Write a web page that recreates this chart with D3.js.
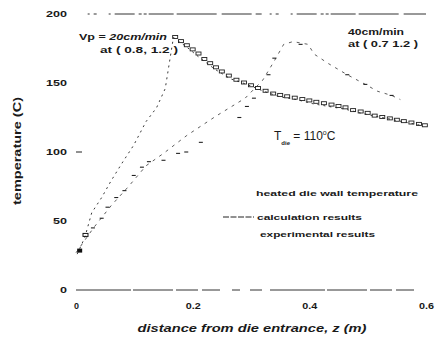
<!DOCTYPE html>
<html>
<head>
<meta charset="utf-8">
<script src="https://cdn.jsdelivr.net/npm/d3@7/dist/d3.min.js"></script>
<style>
body { margin: 0; background: #fff; }
text { font-family: "Liberation Sans", Arial, sans-serif; fill: #1a1a1a; }
</style>
</head>
<body>
<script>
var w = 437;
var h = 343;

// tick values and labels
var xTicks = [0, 0.2, 0.4, 0.6];
var xTickLabels = ["0", "0.2", "0.4", "0.6"];
var yTicks = [0, 50, 100, 150, 200];

// Vp = 20 cm/min, calculation (rising + falling)
var vp20CalcZ = [0.002, 0.015, 0.027, 0.044, 0.06, 0.079, 0.099, 0.12, 0.138, 0.153, 0.167, 0.19, 0.21, 0.238, 0.265, 0.293, 0.322, 0.349, 0.378, 0.406, 0.433, 0.462, 0.49, 0.524, 0.56, 0.595];
var vp20CalcT = [26, 38, 56, 67, 79, 92, 105, 122, 132, 146, 183, 176, 169, 160, 153, 149, 144, 140, 138, 135, 133, 131, 128, 125, 122, 119];

// Vp = 20 cm/min, experimental (open squares)
var vp20ExpZ = [0.170, 0.180, 0.190, 0.200, 0.210, 0.220, 0.230, 0.240, 0.250, 0.262, 0.275, 0.288, 0.300, 0.312, 0.325, 0.338, 0.350, 0.362, 0.375, 0.388, 0.400, 0.412, 0.425, 0.438, 0.450, 0.462, 0.475, 0.488, 0.500, 0.512, 0.525, 0.538, 0.550, 0.562, 0.575, 0.588, 0.598];
var vp20ExpT = [183, 180, 177, 174, 171, 167, 164, 161, 158, 155, 152, 150, 148, 146, 144, 142, 141, 140, 139, 138, 137, 136, 135, 134, 133, 132, 130, 129, 128, 126, 125, 124, 123, 122, 121, 120, 119];

// Vp = 40 cm/min, calculation
var vp40CalcZ = [0.0, 0.03, 0.06, 0.09, 0.12, 0.15, 0.19, 0.24, 0.29, 0.32, 0.34, 0.356, 0.372, 0.398, 0.408, 0.433, 0.465, 0.496, 0.517, 0.541, 0.556];
var vp40CalcT = [27, 45, 61, 75, 90, 99, 112, 126, 139, 152, 166, 178, 180, 178, 171, 164, 156, 149, 144, 141, 138];

// Vp = 40 cm/min, experimental (small marks)
var vp40ExpZ = [0.029, 0.044, 0.054, 0.069, 0.083, 0.099, 0.113, 0.125, 0.150, 0.175, 0.189, 0.214, 0.280, 0.293, 0.305, 0.330, 0.340, 0.385, 0.465, 0.496, 0.541];
var vp40ExpT = [45, 52, 60, 67, 72, 83, 89, 93, 94, 99, 100, 107, 125, 133, 139, 156, 168, 178, 156, 149, 141];

var xScale = d3.scaleLinear().domain([0, 0.6]).range([76, 426]);
var yScale = d3.scaleLinear().domain([0, 200]).range([290, 14]);

var svg = d3.select("body")
            .append("svg")
            .attr("width", w)
            .attr("height", h);

// stretched text helper (the scan is wide and flat)
function label(x, y, size, str, len) {
    return svg.append("text")
              .attr("x", x).attr("y", y)
              .attr("font-size", size).attr("font-weight", "bold")
              .attr("textLength", len)
              .attr("lengthAdjust", "spacingAndGlyphs")
              .text(str);
}

// faint frame lines at 0 and 200
svg.append("line")
   .attr("x1", xScale(0)).attr("x2", xScale(0.58))
   .attr("y1", yScale(0)).attr("y2", yScale(0))
   .attr("stroke", "#333").attr("stroke-width", 1)
   .attr("stroke-dasharray", "55,2,40,3,22,4,18,12,8,10,12,8");
svg.append("line")
   .attr("x1", xScale(0.02)).attr("x2", xScale(0.6))
   .attr("y1", yScale(200)).attr("y2", yScale(200))
   .attr("stroke", "#333").attr("stroke-width", 1)
   .attr("stroke-dasharray", "2,4,3,12,2,4,20,4,3,2,3,2,25,3,40,5,30,4,6,8");

//Define X,Y axis
var xAxis = d3.axisBottom(xScale)
              .tickValues(xTicks)
              .tickSize(0)
              .tickPadding(13)
              .tickFormat(function(d, i) { return xTickLabels[i]; });

var yAxis = d3.axisLeft(yScale)
              .tickValues(yTicks)
              .tickSize(0)
              .tickPadding(9);

var gx = svg.append("g")
    .attr("transform", "translate(0," + yScale(0) + ")")
    .call(xAxis);
gx.select(".domain").remove();
gx.selectAll("text")
  .attr("font-size", 9).attr("font-weight", "bold")
  .attr("textLength", function(d, i) { return xTickLabels[i].length * 5; })
  .attr("lengthAdjust", "spacingAndGlyphs");

var gy = svg.append("g")
    .attr("transform", "translate(" + xScale(0) + ",0)")
    .call(yAxis);
gy.select(".domain").remove();
gy.selectAll("text")
  .attr("font-size", 9).attr("font-weight", "bold")
  .attr("textLength", function(d) { return String(d).length * 7; })
  .attr("lengthAdjust", "spacingAndGlyphs");

// inward tick at 100
svg.append("line")
   .attr("x1", xScale(0)).attr("x2", xScale(0) + 6)
   .attr("y1", yScale(100)).attr("y2", yScale(100))
   .attr("stroke", "#222");

var line = d3.line()
    .x(function(d) { return xScale(d[0]); })
    .y(function(d) { return yScale(d[1]); });

// calculation curves
svg.append("path")
   .datum(d3.zip(vp20CalcZ, vp20CalcT))
   .attr("d", line)
   .attr("fill", "none")
   .attr("stroke", "#222")
   .attr("stroke-width", 0.9)
   .attr("stroke-dasharray", "2,4");

svg.append("path")
   .datum(d3.zip(vp40CalcZ, vp40CalcT))
   .attr("d", line)
   .attr("fill", "none")
   .attr("stroke", "#333")
   .attr("stroke-width", 0.8)
   .attr("stroke-dasharray", "3,5");

// experimental squares
svg.selectAll("rect.exp20")
   .data(d3.zip(vp20ExpZ, vp20ExpT))
   .enter()
   .append("rect")
   .attr("class", "exp20")
   .attr("x", function(d) { return xScale(d[0]) - 2.5; })
   .attr("y", function(d) { return yScale(d[1]) - 2; })
   .attr("width", 5)
   .attr("height", 3)
   .attr("fill", "none")
   .attr("stroke", "#222")
   .attr("stroke-width", 0.9);

// experimental marks, 40 cm/min
svg.selectAll("line.exp40")
   .data(d3.zip(vp40ExpZ, vp40ExpT))
   .enter()
   .append("line")
   .attr("class", "exp40")
   .attr("x1", function(d) { return xScale(d[0]) - 2; })
   .attr("x2", function(d) { return xScale(d[0]) + 2; })
   .attr("y1", function(d) { return yScale(d[1]); })
   .attr("y2", function(d) { return yScale(d[1]); })
   .attr("stroke", "#222")
   .attr("stroke-width", 1.1);

// start cluster near entrance
svg.append("rect")
   .attr("x", xScale(0.002)).attr("y", yScale(30))
   .attr("width", 5).attr("height", 4)
   .attr("fill", "#111");
svg.append("rect")
   .attr("x", xScale(0.012)).attr("y", yScale(41))
   .attr("width", 5).attr("height", 3)
   .attr("fill", "none").attr("stroke", "#111");

// annotations
var t1 = svg.append("text").attr("x", 79).attr("y", 40)
            .attr("font-size", 9.5).attr("font-weight", "bold")
            .attr("textLength", 88).attr("lengthAdjust", "spacingAndGlyphs");
t1.append("tspan").text("Vp = ");
t1.append("tspan").attr("font-style", "italic").text("20cm/min");
label(100, 53, 8.5, "at ( 0.8, 1.2 )", 78);

label(348, 35, 8.5, "40cm/min", 56);
label(348, 47, 8.5, "at ( 0.7  1.2 )", 70);

var td = svg.append("text").attr("x", 274).attr("y", 140)
            .attr("font-size", 12);
td.append("tspan").text("T");
td.append("tspan").attr("dy", 5).attr("font-size", 6).attr("font-weight", "bold").text("die");
td.append("tspan").attr("dy", -5).text(" = 110");
td.append("tspan").attr("dy", -5).attr("font-size", 7).text("o");
td.append("tspan").attr("dy", 5).text("C");

// legend
label(256, 196, 8, "heated die wall temperature", 162);
svg.append("line")
   .attr("x1", 223).attr("x2", 254).attr("y1", 217).attr("y2", 217)
   .attr("stroke", "#222").attr("stroke-dasharray", "6,1.5");
label(257, 220, 8, "calculation results", 105);
label(260, 237, 8, "experimental results", 115);

// axis titles
svg.append("text")
   .attr("transform", "translate(21,151) rotate(-90)")
   .attr("text-anchor", "middle")
   .attr("font-size", 10).attr("font-weight", "bold")
   .attr("textLength", 108).attr("lengthAdjust", "spacingAndGlyphs")
   .text("temperature (C)");

svg.append("text")
   .attr("x", 252).attr("y", 332)
   .attr("text-anchor", "middle")
   .attr("font-size", 11).attr("font-style", "italic").attr("font-weight", "bold")
   .attr("textLength", 229).attr("lengthAdjust", "spacingAndGlyphs")
   .text("distance from die entrance, z (m)");
</script>
</body>
</html>
